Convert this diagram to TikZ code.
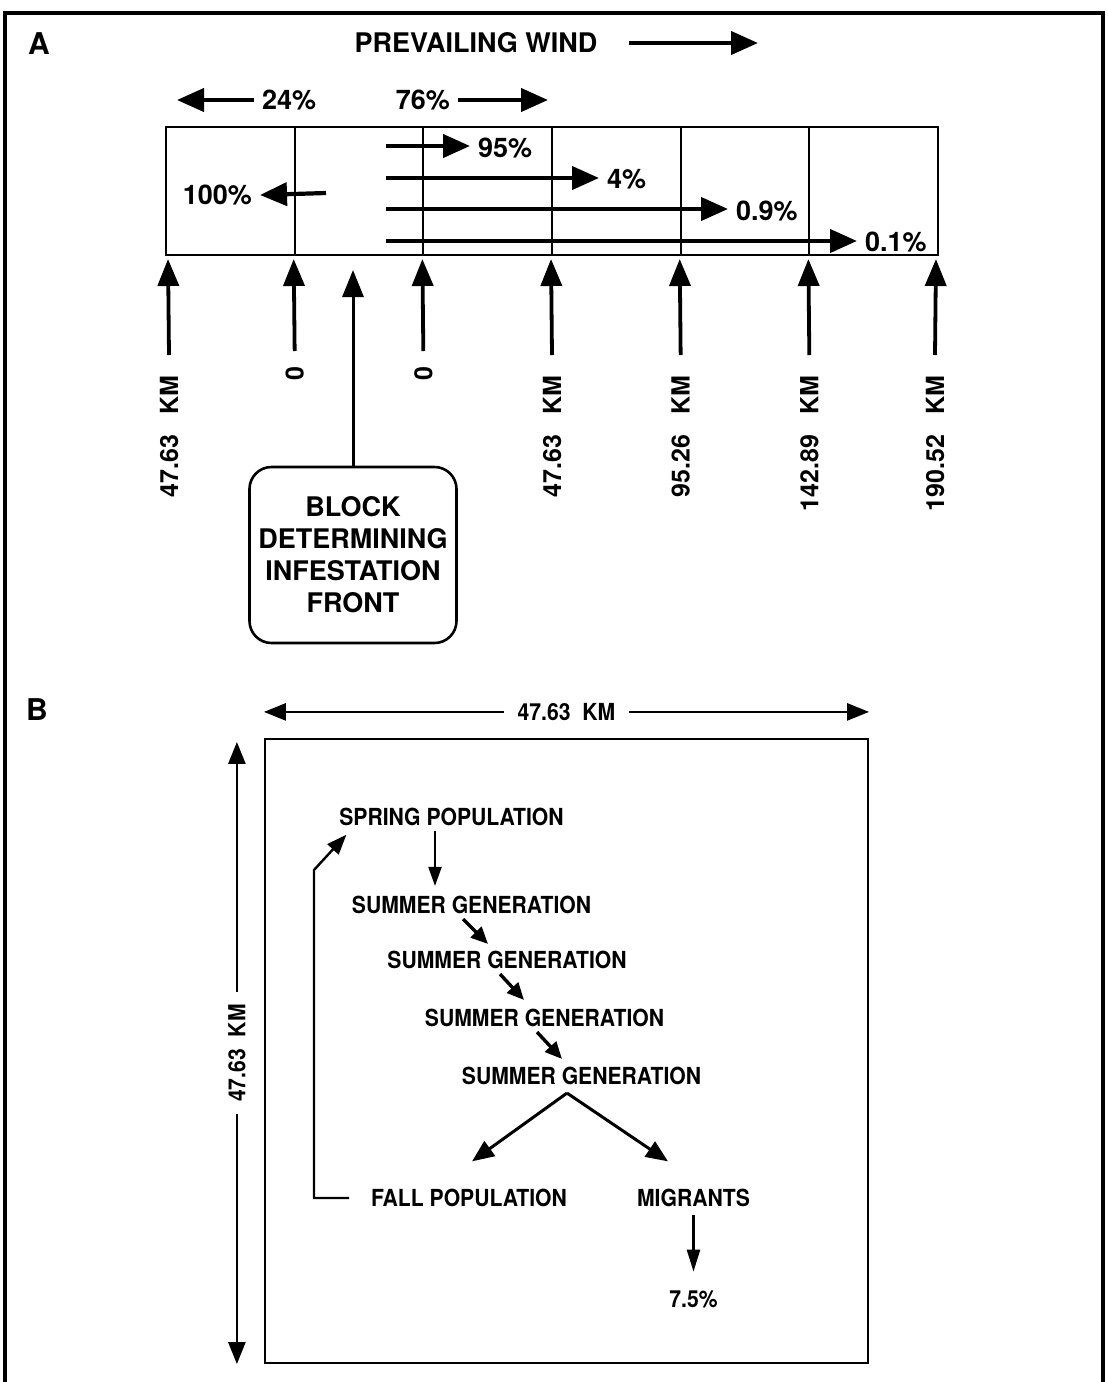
\documentclass[tikz,border=0pt]{standalone}
\usepackage{fontspec}
\setmainfont{TeX Gyre Heros}
\newfontfamily\narrowfont[FakeStretch=0.9]{TeX Gyre Heros}
\usetikzlibrary{arrows.meta,positioning}
\providecommand{\bigfont}{\fontsize{27}{27}\selectfont\bfseries}
\providecommand{\kmfont}{\fontsize{25}{25}\selectfont\bfseries}
\providecommand{\genfont}{\narrowfont\fontsize{23.5}{23.5}\selectfont\bfseries}
\tikzstyle{cell} = [draw, rectangle, line width=2pt, minimum width=128.67pt, minimum height=128pt, inner sep=0pt]
\tikzstyle{lab} = [inner xsep=8pt, inner ysep=0pt, font=\bigfont]
\tikzstyle{km} = [rotate=90, anchor=east, inner sep=0pt, font=\kmfont]
\tikzstyle{gen} = [inner sep=5pt, font=\genfont]
\tikzstyle{block} = [draw, rectangle, rounded corners=22pt, line width=2.6pt, minimum width=207pt, minimum height=176pt, align=center, font=\fontsize{27}{32}\selectfont\bfseries]
\tikzstyle{bigarrow} = [line width=4.2pt, -{Triangle[length=27pt,width=23pt]}]
\tikzstyle{uparrow} = [line width=3.8pt, -{Triangle[length=27pt,width=21pt]}, shorten >=3pt]
\tikzstyle{flow} = [line width=3.4pt, -{Triangle[length=17pt,width=15pt]}]
\tikzstyle{split} = [line width=3pt, -{Triangle[length=22pt,width=18pt]}]
\tikzstyle{dim} = [line width=2.5pt, {Triangle[length=22pt,width=17pt]}-{Triangle[length=22pt,width=17pt]}]

\begin{document}
\begin{tikzpicture}[x=1pt, y=-1pt, node distance=128.67pt]
    \useasboundingbox (0,0) rectangle (1108,1382);
    % frame, open at the bottom
    \draw [line width=4pt] (5,1382) -- (5,13) -- (1103,13) -- (1103,1382);

    % part A
    \node [lab, font=\fontsize{30}{30}\selectfont\bfseries] (ltrA) at (39,44) {A};
    \node [lab] (wind) at (476,43) {PREVAILING WIND};
    \coordinate (windtip) at (758,43);
    \draw [bigarrow] ([xshift=23pt]wind.east) -- (windtip);

    \node [lab, anchor=west] (p24) at (254,100) {24\%};
    \node [lab, anchor=east] (p76) at (458,100) {76\%};
    \coordinate (back) at (177,100);
    \coordinate (ahead) at (548,100);
    \draw [bigarrow] (p24.west) -- (back);
    \draw [bigarrow] (p76.east) -- (ahead);

    \node [cell] (c1) at (230.33,191) {};
    \node [cell, right of=c1] (c2) {};
    \node [cell, right of=c2] (c3) {};
    \node [cell, right of=c3] (c4) {};
    \node [cell, right of=c4] (c5) {};
    \node [cell, right of=c5] (c6) {};

    \node [lab, anchor=east] (p100) at (260,195) {100\%};
    \coordinate (t100) at (326,193);
    \draw [bigarrow] (t100) -- (p100.east);

    \node [lab, anchor=west] (p95) at (470,148) {95\%};
    \node [lab, anchor=west] (p4) at (599,179) {4\%};
    \node [lab, anchor=west] (p09) at (728,211) {0.9\%};
    \node [lab, anchor=west] (p01) at (857,242) {0.1\%};
    \coordinate (s1) at (386,146);
    \coordinate (s2) at (386,178);
    \coordinate (s3) at (386,209);
    \coordinate (s4) at (386,241);
    \draw [bigarrow] (s1) -- (p95.west |- s1);
    \draw [bigarrow] (s2) -- (p4.west |- s2);
    \draw [bigarrow] (s3) -- (p09.west |- s3);
    \draw [bigarrow] (s4) -- (p01.west |- s4);

    \node [km] (l1) at (169,375) {47.63~~~KM};
    \node [km] (l2) at (294.67,366) {0};
    \node [km] (l3) at (423.33,366) {0};
    \node [km] (l4) at (552,375) {47.63~~~KM};
    \node [km] (l5) at (680.67,375) {95.26~~~KM};
    \node [km] (l6) at (809.33,375) {142.89~~~KM};
    \node [km] (l7) at (935,375) {190.52~~~KM};
    \draw [uparrow] ([yshift=20pt]l1.east) -- ([xshift=3pt]c1.south west);
    \draw [uparrow] ([yshift=15pt]l2.east) -- (c2.south west);
    \draw [uparrow] ([yshift=15pt]l3.east) -- (c3.south west);
    \draw [uparrow] ([yshift=20pt]l4.east) -- (c4.south west);
    \draw [uparrow] ([yshift=20pt]l5.east) -- (c5.south west);
    \draw [uparrow] ([yshift=20pt]l6.east) -- (c6.south west);
    \draw [uparrow] ([yshift=20pt]l7.east) -- ([xshift=-3pt]c6.south east);

    \node [block] (front) at (353,555) {BLOCK\\ DETERMINING\\ INFESTATION\\ FRONT};
    \coordinate (fronttip) at (353,270);
    \draw [uparrow, line width=3pt, shorten >=0pt] (front.north) -- (fronttip);

    % part B
    \node [lab, font=\fontsize{30}{30}\selectfont\bfseries] (ltrB) at (37,710) {B};
    \node [draw, rectangle, line width=2.2pt, minimum width=603pt, minimum height=624pt] (area) at (566.5,1051) {};
    \draw [dim] ([yshift=26pt]area.north west) -- node[fill=white, inner xsep=14pt, font=\genfont] {47.63~~KM} ([yshift=26pt]area.north east);
    \draw [dim] ([xshift=-27pt,yshift=-4pt]area.north west) -- node[fill=white, rotate=90, inner xsep=12pt, font=\genfont] {47.63~~KM} ([xshift=-27pt]area.south west);

    \node [gen] (spring) at (451.5,817) {SPRING POPULATION};
    \node [gen] (sum1) at (471.5,905) {SUMMER GENERATION};
    \node [gen] (sum2) at (507,960) {SUMMER GENERATION};
    \node [gen] (sum3) at (544.5,1018) {SUMMER GENERATION};
    \node [gen] (sum4) at (581.5,1076) {SUMMER GENERATION};
    \node [gen] (fall) at (469,1198) {FALL POPULATION};
    \node [gen] (migr) at (693.5,1198) {MIGRANTS};
    \node [gen] (p75) at (693.5,1299) {7.5\%};

    \draw [split, line width=2pt, -{Triangle[length=19pt,width=13pt]}] ([xshift=-16.5pt]spring.south) -- ([xshift=-36.5pt,yshift=5pt]sum1.north);
    \draw [flow] ([xshift=-8.5pt]sum1.south) -- ([xshift=-19pt,yshift=2pt]sum2.north);
    \draw [flow] ([xshift=-7pt]sum2.south) -- ([xshift=-20.5pt,yshift=4pt]sum3.north);
    \draw [flow] ([xshift=-7.5pt]sum3.south) -- ([xshift=-19.5pt,yshift=3pt]sum4.north);
    \draw [split] ([xshift=-14.5pt,yshift=-3pt]sum4.south) -- ([xshift=3pt,yshift=22.6pt]fall.north);
    \draw [split] ([xshift=-14.5pt,yshift=-3pt]sum4.south) -- ([xshift=-25.5pt,yshift=22.6pt]migr.north);
    \draw [split, line width=2.4pt, -{Triangle[length=22pt,width=13pt]}] ([yshift=-3pt]migr.south) -- ([yshift=13.6pt]p75.north);

    \coordinate (bend) at (314,870);
    \draw [split, line width=2.4pt, -{Triangle[length=20pt,width=15pt]}] ([xshift=-16.7pt]fall.west) -| (bend) -- ([xshift=12.3pt,yshift=-3.6pt]spring.south west);
\end{tikzpicture}
\end{document}
